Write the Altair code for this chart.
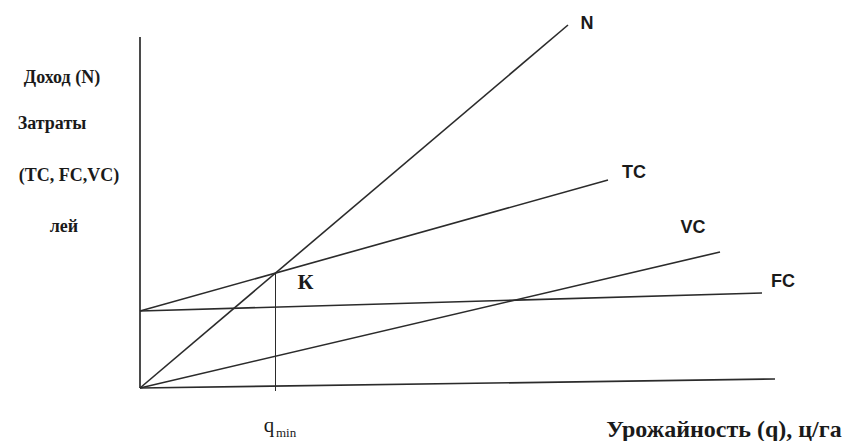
import altair as alt
import pandas as pd
import numpy as np

# Curves: start and end points (q, lei)
series = ["N", "TC", "VC", "FC"]
q_start = [0, 0, 0, 0]
v_start = [0, 77, 0, 77]
q_end = [428, 468, 580, 622]
v_end = [363, 208, 136, 95]

# Axes lines (drawn as in the sketch)
axis_names = ["q", "lei"]
axis_q_start = [0, 0]
axis_v_start = [0, 0]
axis_q_end = [635, 0]
axis_v_end = [9, 351]

# break-even point K = intersection of N and TC
slope_n = (v_end[0] - v_start[0]) / (q_end[0] - q_start[0])
slope_tc = (v_end[1] - v_start[1]) / (q_end[1] - q_start[1])
q_k = (v_start[1] - v_start[0]) / (slope_n - slope_tc)
v_k = v_start[0] + slope_n * q_k

lines = pd.DataFrame({"name": series, "q0": q_start, "v0": v_start, "q1": q_end, "v1": v_end})
axes = pd.DataFrame({"name": axis_names, "q0": axis_q_start, "v0": axis_v_start,
                     "q1": axis_q_end, "v1": axis_v_end})
kdf = pd.DataFrame({"name": ["К"], "q": [q_k], "v": [v_k], "vb": [-3.0]})

W, H = 854, 441
xs = alt.Scale(domain=[-140, 714], nice=False, zero=False)
ys = alt.Scale(domain=[-53, 388], nice=False, zero=False)

def enc_rule(df, width):
    return alt.Chart(df).mark_rule(stroke="#2b2b2b", strokeWidth=width).encode(
        x=alt.X("q0:Q", scale=xs, axis=None),
        y=alt.Y("v0:Q", scale=ys, axis=None),
        x2="q1:Q", y2="v1:Q",
    )

axis_layer = enc_rule(axes, 1.7)
line_layer = enc_rule(lines, 1.6)

drop = alt.Chart(kdf).mark_rule(stroke="#2b2b2b", strokeWidth=1).encode(
    x=alt.X("q:Q", scale=xs, axis=None),
    y=alt.Y("vb:Q", scale=ys, axis=None),
    y2="v:Q",
)

label_offsets = {"N": (19, -1), "TC": (26, -7), "VC": (-27, -24), "FC": (21, -11)}
label_layers = []
for name in series:
    dx, dy = label_offsets[name]
    label_layers.append(
        alt.Chart(lines).transform_filter(alt.datum.name == name).mark_text(
            font="Liberation Sans", fontWeight="bold", fontSize=18, color="#1a1a1a",
            dx=dx, dy=dy, align="center", baseline="middle",
        ).encode(
            x=alt.X("q1:Q", scale=xs, axis=None),
            y=alt.Y("v1:Q", scale=ys, axis=None),
            text="name:N",
        )
    )

k_label = alt.Chart(kdf).mark_text(
    font="Liberation Serif", fontWeight="bold", fontSize=22, color="#1a1a1a",
    dx=30, dy=9, align="center", baseline="middle",
).encode(
    x=alt.X("q:Q", scale=xs, axis=None),
    y=alt.Y("v:Q", scale=ys, axis=None),
    text="name:N",
)

# Axis titles
y_title_lines = ["Доход (N)", "Затраты", "(TC, FC,VC)", "лей"]
y_title_px = [62, 52, 69, 64]
y_title_py = [78, 124, 176, 227]
x_title = "Урожайность (q), ц/га"

ytitle_df = pd.DataFrame({"t": y_title_lines, "px": y_title_px, "py": y_title_py})
ytitle = alt.Chart(ytitle_df).mark_text(
    font="Liberation Serif", fontWeight="bold", fontSize=18, color="#1a1a1a",
    align="center", baseline="middle",
).encode(
    x=alt.X("px:Q", scale=alt.Scale(domain=[0, W], nice=False), axis=None),
    y=alt.Y("py:Q", scale=alt.Scale(domain=[0, H], nice=False, reverse=True), axis=None),
    text="t:N",
)

xtitle = alt.Chart(pd.DataFrame({"t": [x_title]})).mark_text(
    font="Liberation Serif", fontWeight="bold", fontSize=24, color="#1a1a1a",
    align="center", baseline="middle",
).encode(x=alt.value(724), y=alt.value(430), text="t:N")

q_main = alt.Chart(pd.DataFrame({"t": ["q"]})).mark_text(
    font="Liberation Serif", fontSize=21, color="#1a1a1a", align="center", baseline="middle",
).encode(x=alt.value(269), y=alt.value(426), text="t:N")
q_sub = alt.Chart(pd.DataFrame({"t": ["min"]})).mark_text(
    font="Liberation Serif", fontSize=13, color="#1a1a1a", align="left", baseline="middle",
).encode(x=alt.value(276), y=alt.value(433), text="t:N")

chart = alt.layer(
    axis_layer, line_layer, drop, *label_layers, k_label, ytitle, xtitle, q_main, q_sub
).resolve_scale(x="independent", y="independent").properties(
    width=W, height=H, padding=0, autosize=alt.AutoSizeParams(type="none"),
    background="white",
).configure_view(stroke=None)

chart.save("out.html", embed_options={"renderer": "svg", "actions": False})
